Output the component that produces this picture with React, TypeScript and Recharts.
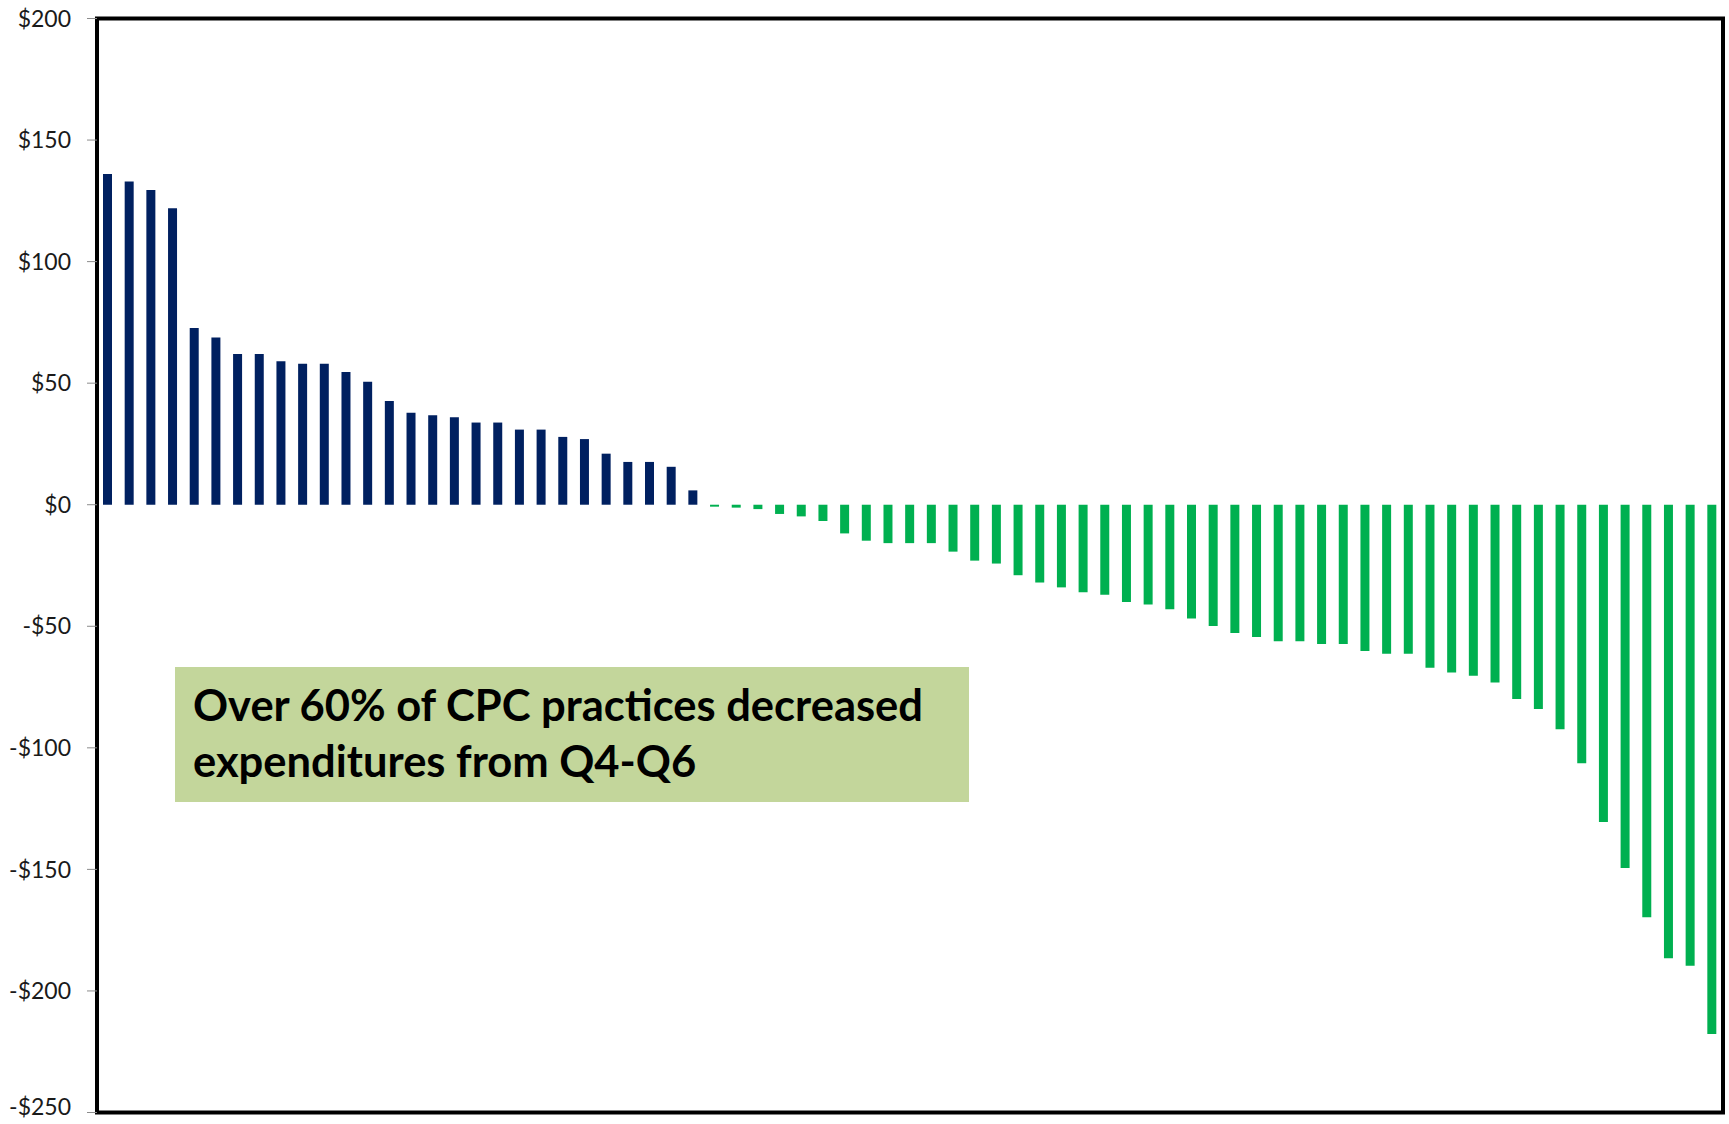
import { BarChart, Bar, XAxis, YAxis, Cell, ReferenceArea } from 'recharts';

// change in expenditures per practice, Q4-Q6, sorted high to low
const increased = [
  136, 133, 129.5, 122, 72.7, 68.8, 62, 62, 59, 58, 58, 54.6, 50.6, 42.7,
  37.8, 36.8, 36, 33.8, 33.8, 30.9, 30.9, 27.9, 27, 21, 17.6, 17.6, 15.6, 5.9,
];
const decreased = [
  -0.8, -1.2, -1.8, -3.8, -4.8, -6.7, -11.8, -14.8, -15.8, -15.8, -15.8, -19.3,
  -23, -24.2, -29, -32, -34, -36, -37, -40, -41, -43, -46.8, -49.9, -52.8,
  -54.4, -56.2, -56.2, -57.3, -57.3, -60.2, -61.3, -61.3, -67.1, -69, -70.3,
  -73.1, -79.9, -84, -92.4, -106.3, -130.5, -149.4, -169.7, -186.6, -189.6,
  -217.7,
];
const yTicks = [200, 150, 100, 50, 0, -50, -100, -150, -200, -250];
const noteLines = ['Over 60% of CPC practices decreased', 'expenditures from Q4-Q6'];

const values = [...increased, ...decreased];
const chartData = values.map((v, i) => ({ practice: `P${i + 1}`, change: v }));

const money = (v: number) => (v < 0 ? `-$${-v}` : `$${v}`);

// keep the bottom label inside the picture
const MoneyTick = ({ x, y, payload }: any) => (
  <text
    x={x}
    y={Math.min(y, 1107)}
    dy='0.355em'
    textAnchor='end'
    fill='#1a1a1a'
    fontSize={23}
    fontFamily='Lato, sans-serif'
  >
    {money(payload.value)}
  </text>
);

const App = () => {
  return (
    <div style={{ position: 'absolute', left: 0, top: 0, width: 1729, height: 1124, background: '#fff' }}>
      <BarChart
        width={1729}
        height={1124}
        data={chartData}
        margin={{ top: 18.5, right: 6, bottom: 11.5, left: 0 }}
        barCategoryGap={0}
      >
        <XAxis dataKey='practice' hide />
        <YAxis
          width={97}
          domain={[-250, 200]}
          ticks={yTicks}
          interval={0}
          axisLine={{ stroke: '#000', strokeWidth: 4 }}
          tickLine={{ stroke: '#8c8c8c', strokeWidth: 1 }}
          tickSize={10}
          tickMargin={16}
          tick={MoneyTick}
        />
        <ReferenceArea y1={-250} y2={200} fill='none' stroke='#000' strokeWidth={4} />
        <Bar dataKey='change' barSize={9} isAnimationActive={false}>
          {chartData.map((d) => (
            <Cell key={d.practice} fill={d.change >= 0 ? '#002060' : '#00b050'} />
          ))}
        </Bar>
      </BarChart>
      <div
        style={{
          position: 'absolute',
          left: 175,
          top: 667,
          width: 794,
          height: 135,
          boxSizing: 'border-box',
          paddingLeft: 18,
          paddingTop: 9,
          background: '#c3d69b',
          color: '#000',
          fontFamily: 'Lato, sans-serif',
          fontWeight: 700,
          fontSize: 43.5,
          lineHeight: '56px',
          whiteSpace: 'nowrap',
        }}
      >
        {noteLines.map((t) => (
          <div key={t}>{t}</div>
        ))}
      </div>
    </div>
  );
};

export default App;
